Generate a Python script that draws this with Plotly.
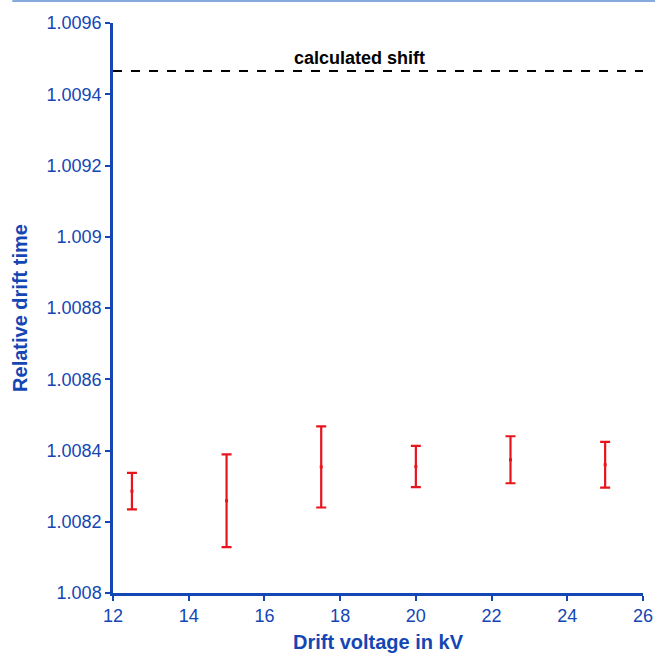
import plotly.graph_objects as go

voltage_kv = [12.5, 15, 17.5, 20, 22.5, 25]
rel_drift_time = [1.008286, 1.008259, 1.008354, 1.008355, 1.008374, 1.008360]
err = [0.000051, 0.000130, 0.000114, 0.000058, 0.000066, 0.000064]
calc_shift = 1.009465
x_range = [12, 26]
y_range = [1.008, 1.0096]
x_ticks = [12, 14, 16, 18, 20, 22, 24, 26]
y_ticks = [1.008, 1.0082, 1.0084, 1.0086, 1.0088, 1.009, 1.0092, 1.0094, 1.0096]
y_ticktext = ["1.008", "1.0082", "1.0084", "1.0086", "1.0088", "1.009", "1.0092", "1.0094", "1.0096"]

axis_blue = "#1446b4"
font_family = "Liberation Sans, Arial"
fig = go.Figure()
fig.add_trace(go.Scatter(
    x=x_range, y=[calc_shift, calc_shift], mode="lines",
    line=dict(color="black", width=2, dash="dash"), showlegend=False))
fig.add_trace(go.Scatter(
    x=voltage_kv, y=rel_drift_time, mode="markers",
    marker=dict(color="#e8141c", size=3, symbol="square"),
    error_y=dict(type="data", array=err, visible=True, color="#e8141c", thickness=2.2, width=5),
    showlegend=False))
fig.add_annotation(x=18.5, y=calc_shift, text="<b>calculated shift</b>", showarrow=False,
                   yanchor="bottom", yshift=1, font=dict(family=font_family, size=18, color="black"))
fig.add_shape(type="line", xref="paper", yref="paper", x0=-0.19, x1=1.03, y0=1.0386, y1=1.0386,
              line=dict(color="#5b8fd0", width=1.5))
fig.update_layout(
    width=655, height=657, margin=dict(l=113, r=12, t=23, b=64),
    plot_bgcolor="white", paper_bgcolor="white",
    font=dict(family=font_family, size=18, color=axis_blue),
    xaxis=dict(range=x_range, tickvals=x_ticks, showgrid=False, zeroline=False, automargin=False,
               showline=True, linecolor=axis_blue, linewidth=2.5, ticks="outside", ticklen=5,
               tickwidth=2, tickcolor=axis_blue,
               title=dict(text="<b>Drift voltage in kV</b>", font=dict(size=20, color=axis_blue), standoff=10)),
    yaxis=dict(range=y_range, tickvals=y_ticks, ticktext=y_ticktext,
               showgrid=False, zeroline=False, automargin=False,
               showline=True, linecolor=axis_blue, linewidth=2.5, ticks="outside", ticklen=5,
               tickwidth=2, tickcolor=axis_blue,
               title=dict(text="<b>Relative drift time</b>", font=dict(size=20, color=axis_blue), standoff=14)),
)
fig.write_html("out.html", config={"displayModeBar": False},
               post_script="document.body.style.margin='0';document.body.style.overflow='hidden';")
